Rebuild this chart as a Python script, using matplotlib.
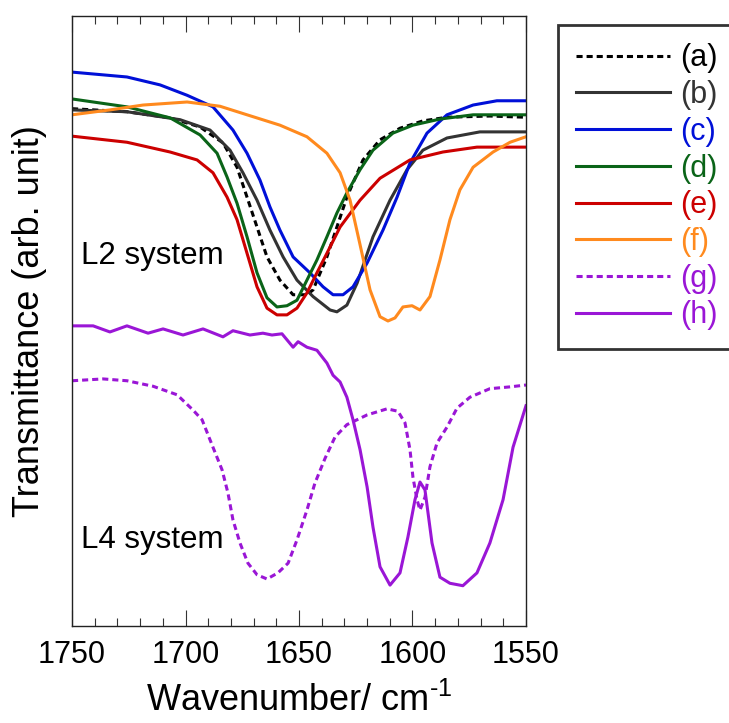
import matplotlib
matplotlib.use("Agg")
import matplotlib.pyplot as plt
from matplotlib.ticker import MultipleLocator

plt.rcParams["font.family"] = ["Liberation Sans", "DejaVu Sans"]
plt.rcParams["mathtext.fontset"] = "custom"
plt.rcParams["mathtext.rm"] = "Liberation Sans"

# ---- data (wavenumber / cm-1, transmittance arb.) ----
wn_a = [1750, 1725.8, 1706.8, 1693.6, 1683.5, 1677.3, 1672.9, 1668.5, 1664.1, 1658.4,
        1652.6, 1646.5, 1643.8, 1637.7, 1633.3, 1628.9, 1621.8, 1614.3, 1605.5, 1595.4,
        1584.8, 1565.9, 1550]
tr_a = [84.8, 84.3, 83.3, 81.8, 79.2, 75.2, 70.3, 65.4, 60.5, 56.7,
        54.3, 54.3, 55.1, 60.5, 65.4, 70.3, 76.4, 79.7, 81.6, 82.8,
        83.4, 83.6, 83.4]

wn_b = [1750, 1725.8, 1702.4, 1689.2, 1680.4, 1674.7, 1668.5, 1662.8, 1657.0, 1650.9,
        1643.8, 1636.3, 1633.3, 1628.9, 1624.4, 1617.4, 1609.9, 1602.4, 1595.4, 1584.8,
        1570.3, 1550]
tr_b = [84.6, 84.3, 83.0, 81.3, 78.0, 74.3, 69.8, 64.9, 60.5, 56.7,
        54.0, 51.8, 51.5, 52.6, 56.2, 63.8, 69.8, 74.8, 78.0, 80.0,
        81.0, 81.0]

wn_c = [1750, 1725.8, 1711.2, 1699.3, 1687.9, 1679.1, 1672.9, 1667.2, 1662.8, 1658.4,
        1652.6, 1645.2, 1639.4, 1635.0, 1630.6, 1626.2, 1620.0, 1613.0, 1606.8, 1601.1,
        1593.6, 1584.8, 1573.3, 1562.8, 1550]
tr_c = [90.8, 90.0, 88.7, 87.0, 85.1, 81.3, 77.5, 73.1, 68.7, 64.9,
        60.5, 57.9, 55.6, 54.3, 54.3, 55.6, 59.5, 64.9, 70.3, 75.9,
        80.8, 83.8, 85.4, 86.1, 86.1]

wn_d = [1750, 1725.8, 1706.8, 1693.6, 1686.1, 1681.7, 1677.3, 1672.9, 1668.5, 1664.1,
        1659.7, 1655.3, 1650.9, 1646.5, 1642.1, 1637.7, 1633.3, 1628.9, 1623.1, 1617.4,
        1608.6, 1599.8, 1587.9, 1573.3, 1550]
tr_d = [86.4, 85.1, 83.3, 80.5, 77.5, 73.6, 69.3, 63.8, 57.9, 53.8,
        52.3, 52.5, 53.4, 56.7, 60.0, 63.8, 67.7, 71.0, 74.8, 78.0,
        80.8, 82.1, 83.1, 83.8, 83.8]

wn_e = [1750, 1725.8, 1706.8, 1694.9, 1687.9, 1681.7, 1677.3, 1672.9, 1668.5, 1664.1,
        1659.7, 1655.3, 1650.9, 1646.5, 1642.1, 1637.7, 1631.9, 1623.1, 1614.3, 1601.1,
        1586.6, 1571.6, 1550]
tr_e = [80.3, 79.3, 77.7, 76.4, 74.3, 70.3, 66.6, 61.1, 55.6, 52.1,
        51.0, 51.0, 52.1, 54.6, 57.9, 61.1, 65.4, 69.8, 73.4, 76.4,
        77.7, 78.5, 78.5]

wn_f = [1750, 1733.3, 1718.7, 1699.3, 1684.8, 1672.9, 1658.4, 1646.5, 1637.7, 1631.9,
        1627.5, 1623.1, 1618.7, 1614.3, 1610.8, 1607.7, 1604.2, 1600.2, 1596.7, 1592.3,
        1587.9, 1583.5, 1579.1, 1573.3, 1564.5, 1557.0, 1550]
tr_f = [83.8, 84.6, 85.4, 85.9, 85.2, 83.8, 82.1, 80.2, 77.5, 74.3,
        69.8, 62.5, 55.1, 50.7, 50.0, 50.5, 52.3, 52.5, 51.8, 54.0,
        60.0, 66.6, 71.5, 75.2, 77.7, 79.3, 80.2]

wn_g = [1750, 1736.3, 1725.8, 1714.3, 1703.7, 1696.7, 1692.7, 1687.9, 1683.9, 1681.3,
        1679.1, 1676.0, 1672.5, 1668.5, 1664.1, 1659.3, 1654.8, 1650.9, 1646.5, 1643.0,
        1638.5, 1634.1, 1628.9, 1620.0, 1611.2, 1606.4, 1603.3, 1601.1, 1599.8, 1598.0,
        1596.7, 1594.5, 1592.3, 1589.2, 1584.8, 1580.4, 1574.7, 1565.9, 1557.0, 1550]
tr_g = [40.2, 40.5, 40.2, 39.3, 37.9, 35.4, 33.8, 29.3, 25.6, 21.8,
        17.4, 13.6, 10.3, 8.4, 7.7, 8.7, 10.3, 14.1, 19.0, 23.4,
        27.5, 31.0, 33.0, 34.6, 35.6, 35.2, 33.3, 28.9, 24.4, 20.7,
        19.0, 21.1, 26.1, 30.0, 32.6, 35.7, 37.5, 38.9, 39.2, 39.5]

wn_h = [1750, 1740.7, 1733.3, 1725.8, 1716.5, 1709.9, 1701.1, 1692.3, 1683.5, 1679.1,
        1671.6, 1665.9, 1661.9, 1657.5, 1652.6, 1650.4, 1646.5, 1642.1, 1637.7, 1635.0,
        1631.9, 1628.9, 1626.2, 1623.1, 1620.0, 1617.4, 1614.3, 1609.9, 1605.5, 1602.0,
        1598.9, 1596.7, 1594.5, 1591.4, 1587.9, 1583.5, 1577.8, 1571.6, 1565.9, 1560.1,
        1555.7, 1550]
tr_h = [49.2, 49.2, 48.2, 49.2, 48.0, 48.7, 47.7, 48.7, 47.4, 48.4,
        47.7, 48.0, 47.7, 47.9, 45.7, 46.6, 45.7, 45.2, 43.1, 41.1,
        40.0, 37.5, 33.8, 28.9, 22.8, 16.2, 9.7, 6.7, 8.7, 14.6,
        20.7, 23.6, 22.3, 13.6, 8.0, 7.0, 6.6, 8.7, 13.6, 20.7,
        29.3, 36.1]

labels = ["(a)", "(b)", "(c)", "(d)", "(e)", "(f)", "(g)", "(h)"]
colors = ["#000000", "#333333", "#0010d8", "#0a6418", "#cc0000", "#ff8a1e", "#9a16d6", "#9a16d6"]
dashed = [True, False, False, False, False, False, True, False]
series = [(wn_a, tr_a), (wn_b, tr_b), (wn_c, tr_c), (wn_d, tr_d),
          (wn_e, tr_e), (wn_f, tr_f), (wn_g, tr_g), (wn_h, tr_h)]

xticks = [1750, 1700, 1650, 1600, 1550]

fig = plt.figure(figsize=(7.29, 7.23), dpi=100)
ax = fig.add_axes([0.0988, 0.1342, 0.6227, 0.8437])

for (x, y), lab, c, d in zip(series, labels, colors, dashed):
    ls = (0, (2.0, 1.3)) if d else "-"
    ax.plot(x, y, color=c, lw=2.2, ls=ls, label=lab)

ax.set_xlim(1750, 1550)
ax.set_ylim(0, 100)
ax.set_xticks(xticks)
ax.xaxis.set_minor_locator(MultipleLocator(10))
ax.tick_params(axis="x", which="both", direction="in", top=True, bottom=True,
               labelsize=22, pad=10, width=0.8, color="#333333")
ax.tick_params(axis="x", which="major", length=11.5)
ax.tick_params(axis="x", which="minor", length=5.5)
ax.tick_params(axis="y", which="both", left=False, labelleft=False)
for s in ax.spines.values():
    s.set_linewidth(1.0)
    s.set_color("#222222")

ax.set_xlabel(r"Wavenumber/ cm$^{\text{-}1}$", fontsize=26, labelpad=9)
ax.set_ylabel("Transmittance (arb. unit)", fontsize=26, labelpad=18)

ax.text(0.02, 0.593, "L2 system", transform=ax.transAxes, fontsize=22.5, va="baseline")
ax.text(0.02, 0.128, "L4 system", transform=ax.transAxes, fontsize=22.5, va="baseline")

leg = ax.legend(loc="upper left", bbox_to_anchor=(0.7654, 0.9654), bbox_transform=fig.transFigure,
                borderaxespad=0, fontsize=22, frameon=True, fancybox=False,
                handlelength=3.07, handletextpad=0.33, labelspacing=0.22, borderpad=0.6,
                labelcolor="linecolor")
leg.get_frame().set_edgecolor("black")
leg.get_frame().set_linewidth(2.0)

fig.savefig("out.png", dpi=100)
